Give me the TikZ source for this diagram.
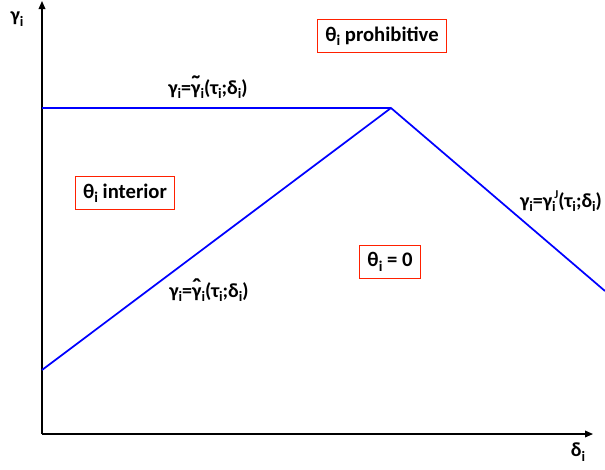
\documentclass[tikz,border=0pt]{standalone}
\usepackage{fontspec}
\setmainfont{Carlito}
\usetikzlibrary{arrows.meta}
\newcommand{\dn}[1]{\raisebox{-0.45ex}{\scalebox{0.72}{#1}}}
\newcommand{\up}[1]{\raisebox{0.95ex}{\scalebox{0.6}{#1}}}
\newcommand{\tildeg}{\ooalign{γ\cr\hidewidth\raisebox{0.05ex}{\scalebox{1.3}{\symbol{"02DC}}}\hidewidth\cr}}
\newcommand{\hatg}{\ooalign{γ\cr\hidewidth\raisebox{0.05ex}{\scalebox{1.3}{\symbol{"02C6}}}\hidewidth\cr}}
\begin{document}
\begin{tikzpicture}[x=0.75pt,y=-0.75pt,
  axis/.style={line width=1pt,-{Triangle[length=6pt,width=5pt]}},
  lab/.style={font=\fontsize{15}{17}\selectfont\bfseries,inner sep=1pt},
  region/.style={draw=red!75!orange,line width=0.8pt,fill=white,font=\fontsize{15.5}{17}\selectfont\bfseries,inner xsep=6pt,inner ysep=5pt}]
\useasboundingbox (0,0) rectangle (605,469);
\coordinate (O) at (42,434);
\coordinate (ytop) at (42,1);
\coordinate (xend) at (593,434);
\coordinate (A) at (42,108);
\coordinate (B) at (42,370);
\coordinate (P) at (391,108);
\coordinate (E) at (605,291);
\draw[axis] (O) -- (ytop);
\draw[axis] (O) -- (xend);
\draw[blue,line width=1.3pt] (A) -- (P);
\draw[blue,line width=1.3pt] (B) -- (P) -- (E);
\node[lab] (yl) at (17,19) {γ\dn{i}};
\node[lab] (xl) at (578,452) {δ\dn{i}};
\node[lab] (l1) at (208,89) {γ\dn{i}=\tildeg\dn{i}(τ\dn{i};δ\dn{i})};
\node[lab] (l2) at (561,201) {γ\dn{i}=γ\dn{i}\kern-1pt\up{J}(τ\dn{i};δ\dn{i})};
\node[lab] (l3) at (209,292) {γ\dn{i}=\hatg\dn{i}(τ\dn{i};δ\dn{i})};
\node[region] (r1) at (382,36) {θ\dn{i} prohibitive};
\node[region] (r2) at (125,193) {θ\dn{i} interior};
\node[region] (r3) at (390,262) {θ\dn{i} = 0};
\end{tikzpicture}
\end{document}
